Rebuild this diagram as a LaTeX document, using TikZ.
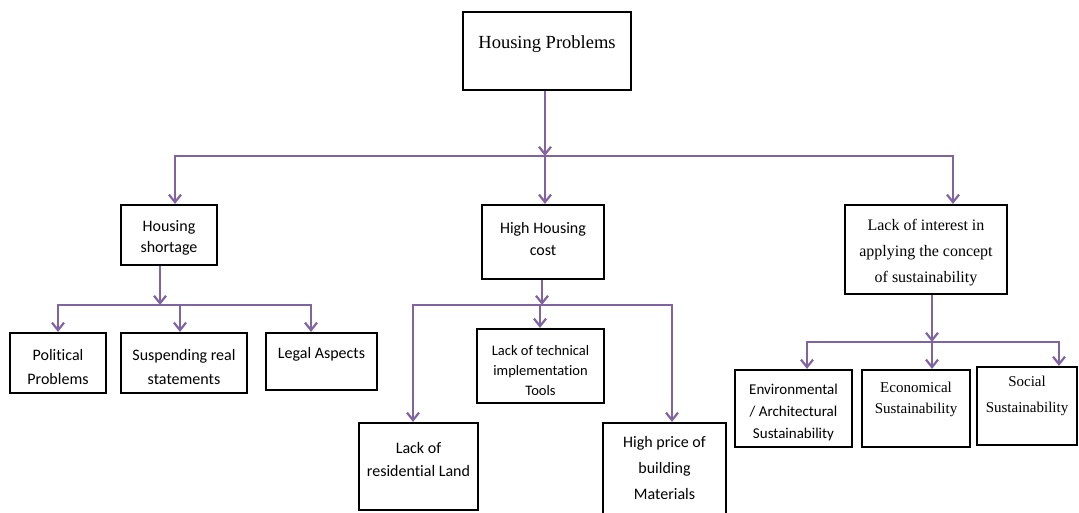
\documentclass[tikz,border=0pt]{standalone}
\usepackage{fontspec}
\setmainfont{Liberation Serif}
\newfontfamily\calib[Ligatures=NoCommon]{Carlito}
\usetikzlibrary{arrows.meta}
\definecolor{linkpurple}{HTML}{8064A2}

% box content: width, height, first baseline, line spacing, text
\newcommand\inbox[5]{\parbox[c][#2pt][t]{#1pt}{\centering\baselineskip=#4pt\relax\rule{0pt}{#3pt}#5\par}}

\tikzset{
  box/.style={draw=black, line width=2.2pt, inner sep=0pt, fill=white},
  sanstext/.style={font=\calib\fontsize{16}{19}\selectfont},
  seriftext/.style={font=\fontsize{15}{18}\selectfont},
  link/.style={draw=linkpurple, line width=2.2pt},
  arr/.style={link, -{Straight Barb[length=7.5pt,width=12pt]}},
}

\begin{document}
\begin{tikzpicture}[x=1pt, y=-1pt]
\useasboundingbox (0,0) rectangle (1079,513);

% root
\node[box, font=\fontsize{18.5}{22}\selectfont] (hp) at (547,51)
  {\inbox{168}{78}{37}{22}{Housing Problems}};

% first level
\node[box, sanstext] (hs) at (169,235)
  {\inbox{96}{60}{27}{21}{Housing\\shortage}};
\node[box, sanstext] (hc) at (543,242)
  {\inbox{122}{74}{28}{22}{High Housing\\cost}};
\node[box, font=\fontsize{16}{20}\selectfont] (li) at (926,249.5)
  {\inbox{162}{89}{26}{25.5}{Lack of interest in\\applying the concept\\of sustainability}};

% under housing shortage
\node[box, sanstext] (pp) at (58,363)
  {\inbox{96}{60}{27}{24}{Political\\Problems}};
\node[box, sanstext] (sr) at (184,363)
  {\inbox{126}{60}{27}{24}{Suspending real\\statements}};
\node[box, sanstext] (la) at (321.5,361.5)
  {\inbox{111}{57}{25}{22}{Legal Aspects}};

% under high housing cost
\node[box, font=\calib\fontsize{14.5}{17}\selectfont] (lt) at (540.5,366)
  {\inbox{127}{74}{26}{20}{Lack of technical\\implementation\\Tools}};
\node[box, sanstext] (lr) at (418.5,466.5)
  {\inbox{119}{87}{30}{23}{Lack of\\residential Land}};
\node[box, sanstext] (hpb) at (664.5,474)
  {\inbox{123}{102}{24}{26}{High price of\\building\\Materials}};

% under lack of interest
\node[box, font=\calib\fontsize{15}{18}\selectfont] (ea) at (793.5,408.5)
  {\inbox{117}{77}{24}{22}{Environmental\\/ Architectural\\Sustainability}};
\node[box, seriftext] (ec) at (916,408.5)
  {\inbox{108}{77}{22}{21}{Economical\\Sustainability}};
\node[box, seriftext] (so) at (1027,406)
  {\inbox{100}{78}{19}{26}{Social\\Sustainability}};

% junction points on the distribution bars
\coordinate (a1) at (175,156);
\coordinate (a2) at (545,156);
\coordinate (a3) at (953,156);
\coordinate (b1) at (58,305);
\coordinate (b2) at (160,305);
\coordinate (b3) at (180,305);
\coordinate (b4) at (311,305);
\coordinate (c1) at (413,305);
\coordinate (c2) at (542,305);
\coordinate (c3) at (540,305);
\coordinate (c4) at (672,305);
\coordinate (d1) at (807,342);
\coordinate (d2) at (932,342);
\coordinate (d3) at (1059,342);

% root to first level
\draw[arr] (a2 |- hp.south) -- (a2);
\draw[arr] (a2) -| (a1 |- hs.north);
\draw[arr] (a2) -- (a2 |- hc.north);
\draw[arr] (a2) -| (a3 |- li.north);

% housing shortage branch
\draw[arr] (b2 |- hs.south) -- (b2);
\draw[arr] (b2) -| (b1 |- pp.north);
\draw[arr] (b2) -| (b3 |- sr.north);
\draw[arr] (b2) -| (b4 |- la.north);

% high housing cost branch
\draw[arr] (c2 |- hc.south) -- (c2);
\draw[arr] (c2) -| (c1 |- lr.north);
\draw[arr] (c2) -| (c3 |- lt.north);
\draw[arr] (c2) -| (c4 |- hpb.north);

% sustainability branch
\draw[arr] (d2 |- li.south) -- (d2);
\draw[arr] (d2) -| (d1 |- ea.north);
\draw[arr] (d2) -- (d2 |- ec.north);
\draw[arr] (d2) -| (d3 |- so.north);
\end{tikzpicture}
\end{document}
